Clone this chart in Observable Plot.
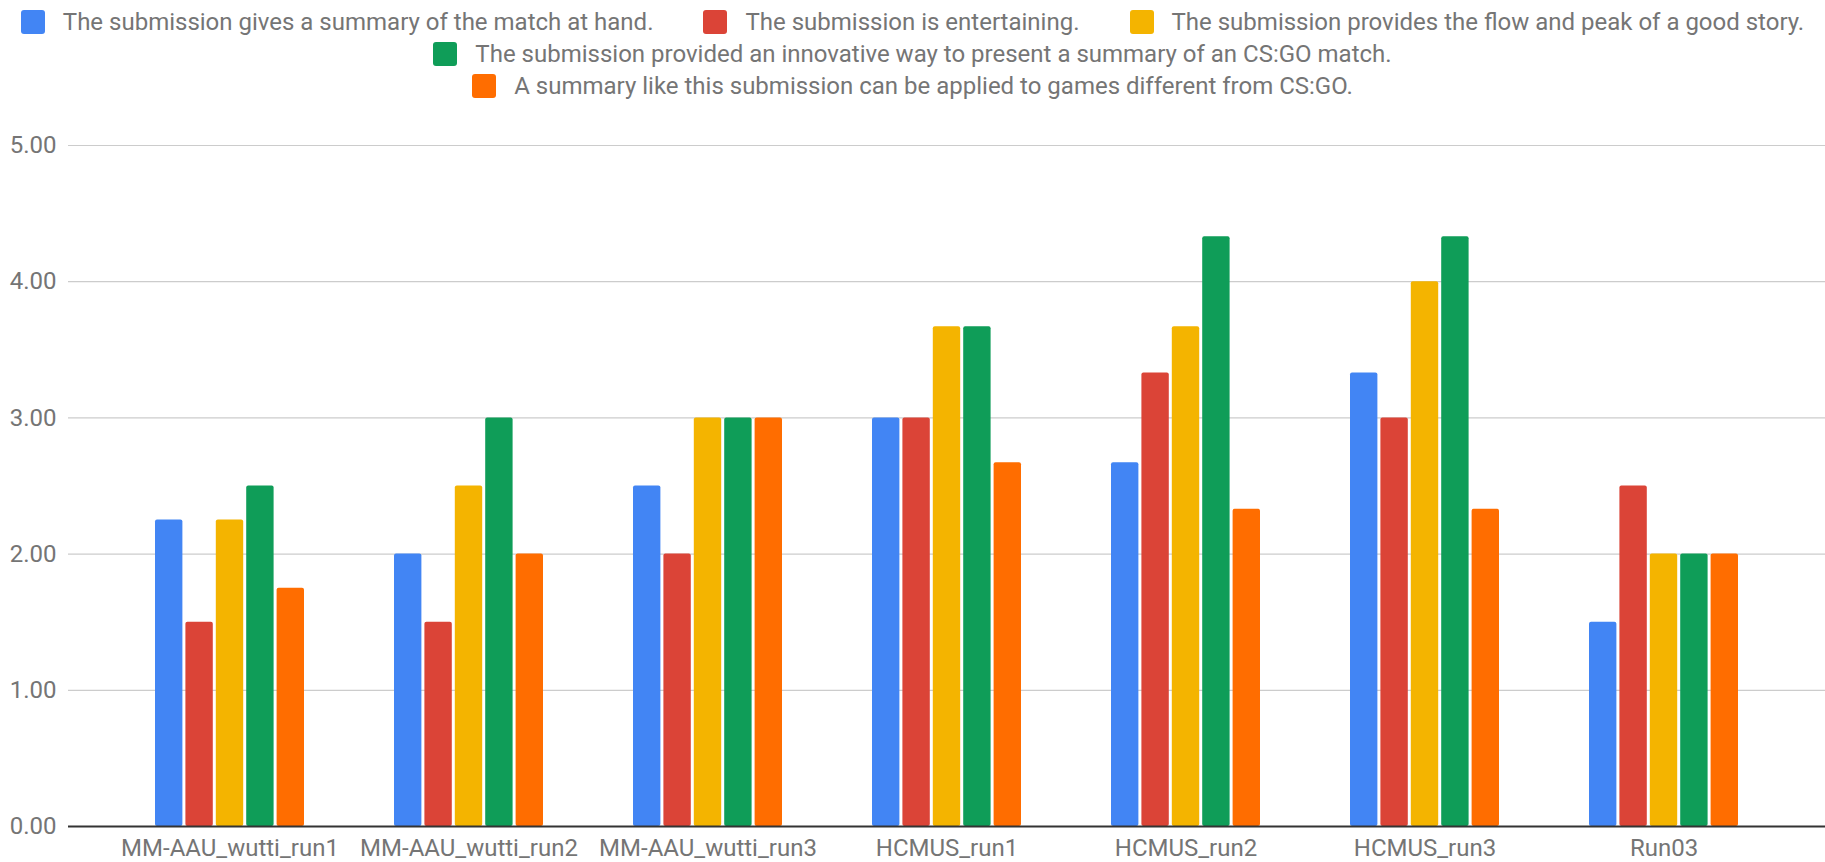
<!DOCTYPE html>
<html>
<head>
<meta charset="utf-8">
<script src="https://cdn.jsdelivr.net/npm/d3@7"></script>
<script src="https://cdn.jsdelivr.net/npm/@observablehq/plot@0.6"></script>
<style>
  html, body { margin: 0; padding: 0; background: #fff; }
  #legend { font-family: Roboto, sans-serif; font-size: 24px; color: #757575; padding-top: 6px; width: 1825px; height: 94px; }
  .row { display: flex; justify-content: center; align-items: center; height: 32px; white-space: nowrap; }
  .item { display: flex; align-items: center; margin: 0 25px; }
  .sw { width: 24px; height: 24px; border-radius: 3px; margin-right: 18px; display: inline-block; flex: none; }
  svg { display: block; }
</style>
</head>
<body>
<div id="legend"></div>
<div id="chart"></div>
<script>
const groups = ["MM-AAU_wutti_run1", "MM-AAU_wutti_run2", "MM-AAU_wutti_run3", "HCMUS_run1", "HCMUS_run2", "HCMUS_run3", "Run03"];
const seriesNames = [
  "The submission gives a summary of the match at hand.",
  "The submission is entertaining.",
  "The submission provides the flow and peak of a good story.",
  "The submission provided an innovative way to present a summary of an CS:GO match.",
  "A summary like this submission can be applied to games different from CS:GO."
];
const colors = ["#4285F4", "#DB4437", "#F4B400", "#0F9D58", "#FF6D00"];
const summaryValues      = [2.25, 2.00, 2.50, 3.00, 2.67, 3.33, 1.50];
const entertainingValues = [1.50, 1.50, 2.00, 3.00, 3.33, 3.00, 2.50];
const storyValues        = [2.25, 2.50, 3.00, 3.67, 3.67, 4.00, 2.00];
const innovativeValues   = [2.50, 3.00, 3.00, 3.67, 4.33, 4.33, 2.00];
const otherGamesValues   = [1.75, 2.00, 3.00, 2.67, 2.33, 2.33, 2.00];
const seriesValues = [summaryValues, entertainingValues, storyValues, innovativeValues, otherGamesValues];
const yTicks = [0, 1, 2, 3, 4, 5];
const legendRows = [[0, 1, 2], [3], [4]];

// legend
const legend = document.getElementById("legend");
for (const row of legendRows) {
  const r = document.createElement("div");
  r.className = "row";
  for (const i of row) {
    const it = document.createElement("div");
    it.className = "item";
    const sw = document.createElement("span");
    sw.className = "sw";
    sw.style.background = colors[i];
    const t = document.createElement("span");
    t.textContent = seriesNames[i];
    it.appendChild(sw); it.appendChild(t);
    r.appendChild(it);
  }
  legend.appendChild(r);
}

const table = groups.flatMap((g, j) => seriesValues.map((vals, i) => ({group: g, series: i, value: vals[j]})));

const W = 1825, H = 762, ML = 68, MR = 0;
const pIn = 0.375, pOut = 0.3627;
const step = (W - ML - MR) / (groups.length - pIn + 2 * pOut);
const bw = step * (1 - pIn);
const barW = bw * 0.186;
const barStep = (bw - barW) / (seriesValues.length - 1);

const barMarks = seriesValues.map((_, i) =>
  Plot.barY(table.filter(d => d.series === i), {
    x: "group", y: "value", fill: colors[i],
    insetLeft: i * barStep, insetRight: bw - i * barStep - barW, rx: 2
  })
);

const chart = Plot.plot({
  width: W, height: H,
  marginLeft: ML, marginRight: MR, marginTop: 45, marginBottom: 36,
  style: {fontFamily: "Roboto, sans-serif", fontSize: "24px", color: "#757575", background: "#fff"},
  x: {domain: groups, paddingInner: pIn, paddingOuter: pOut, label: null, tickSize: 0, tickPadding: 12},
  y: {domain: [0, 5], ticks: yTicks, tickFormat: d3.format(".2f"), tickSize: 0, tickPadding: 12, label: null},
  marks: [
    Plot.ruleY(yTicks.filter(t => t > 0), {stroke: "#cccccc", strokeWidth: 1.2}),
    ...barMarks,
    Plot.ruleY([0], {stroke: "#333333", strokeWidth: 2})
  ]
});
document.getElementById("chart").appendChild(chart);
</script>
</body>
</html>
